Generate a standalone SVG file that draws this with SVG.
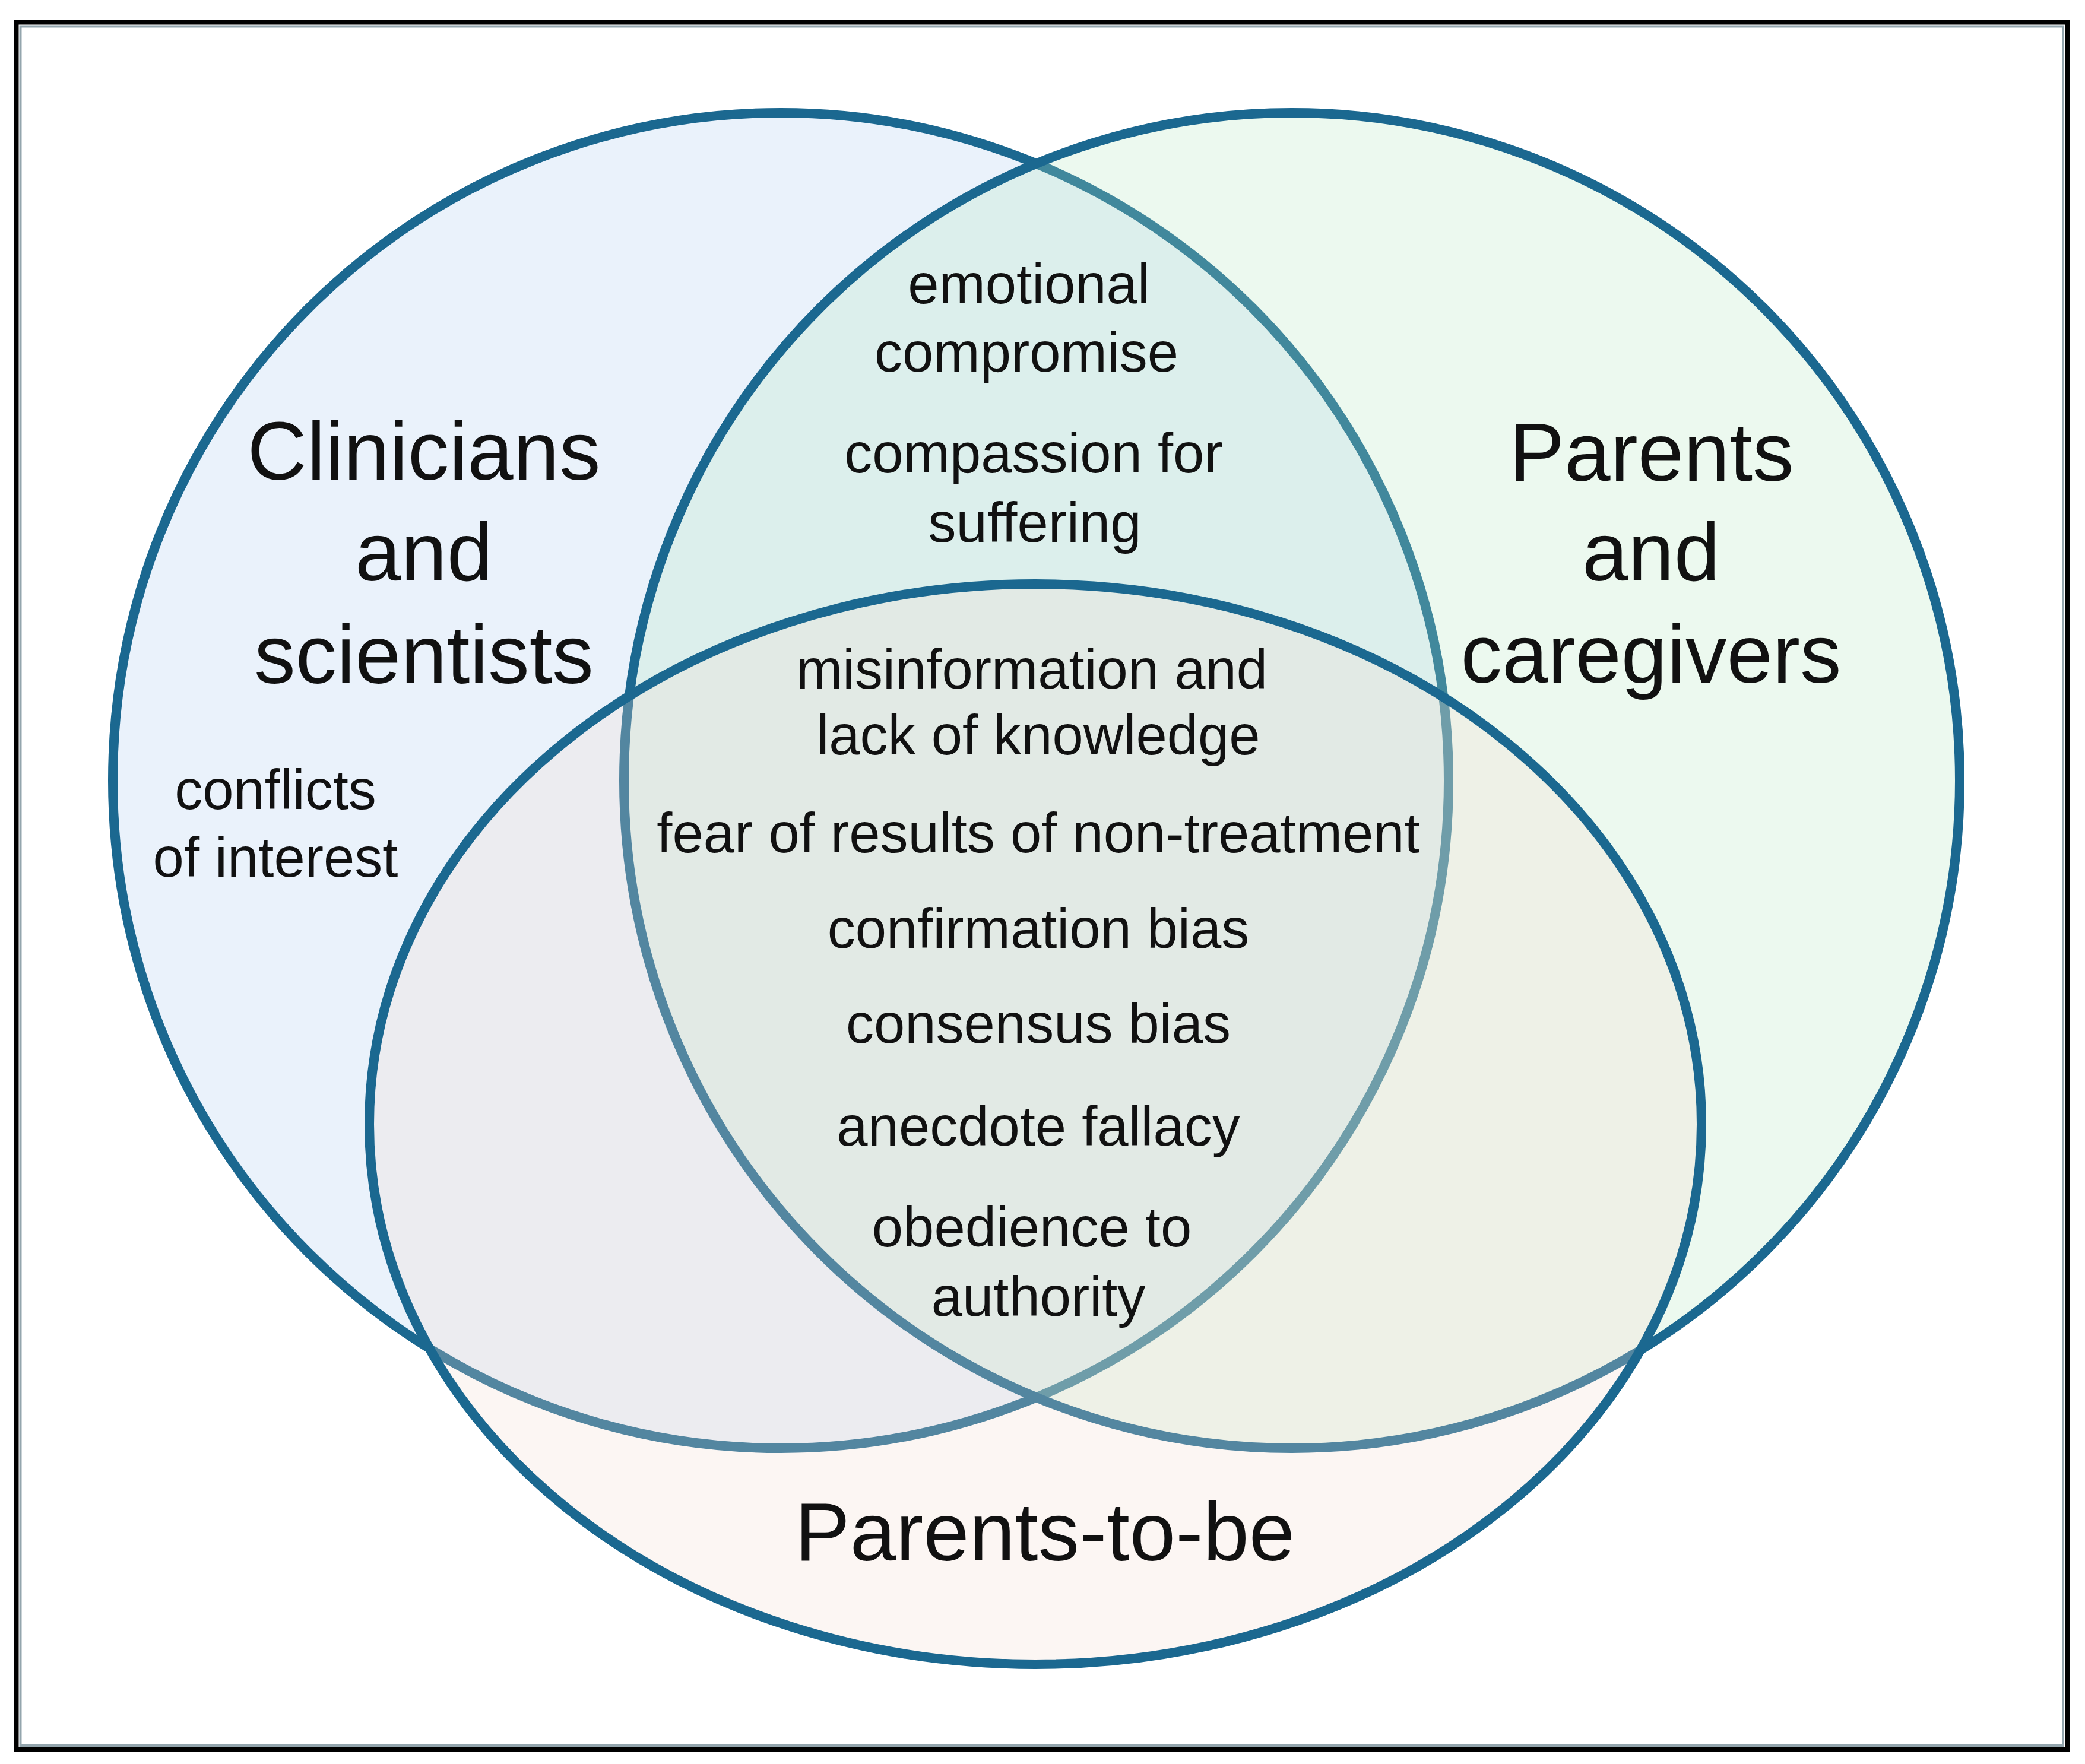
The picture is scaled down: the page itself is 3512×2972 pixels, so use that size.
<svg xmlns="http://www.w3.org/2000/svg" width="3512" height="2972" viewBox="0 0 3512 2972">
<style>
.set{stroke:#1b6890;stroke-width:16}
.big{font-family:"Liberation Sans",Arial,sans-serif;font-size:139px;fill:#111;text-anchor:middle}
.sm{font-family:"Liberation Sans",Arial,sans-serif;font-size:94px;fill:#111;text-anchor:middle}
</style>
<rect width="3512" height="2972" fill="#ffffff"/>
<rect x="27.5" y="37.5" width="3454.5" height="2909.5" fill="none" stroke="#000" stroke-width="8"/>
<rect x="34.5" y="44.5" width="3440.5" height="2896.5" fill="none" stroke="#93a5ad" stroke-width="4"/>
<g id="clinicians">
<circle class="set" cx="1315" cy="1315" r="1125" fill="#eaf2fb"/>
</g>
<g id="parents">
<circle class="set" cx="2176" cy="1315" r="1125" fill="rgb(180,232,190)" fill-opacity="0.25"/>
</g>
<g id="parents-to-be">
<ellipse class="set" cx="1744" cy="1894" rx="1122" ry="910" fill="rgb(243,220,209)" fill-opacity="0.26"/>
</g>
<g id="labels-clinicians">
<text class="big" x="714" y="808">Clinicians</text>
<text class="big" x="714" y="978">and</text>
<text class="big" x="714" y="1151">scientists</text>
<text class="sm" x="464" y="1363">conflicts</text>
<text class="sm" x="464" y="1477">of interest</text>
</g>
<g id="labels-parents">
<text class="big" x="2782" y="810">Parents</text>
<text class="big" x="2781" y="978">and</text>
<text class="big" x="2781" y="1150">caregivers</text>
</g>
<g id="labels-overlap-top">
<text class="sm" x="1733" y="511">emotional</text>
<text class="sm" x="1729" y="626">compromise</text>
<text class="sm" x="1741" y="796">compassion for</text>
<text class="sm" x="1743" y="913">suffering</text>
</g>
<g id="labels-center">
<text class="sm" x="1738" y="1160">misinformation and</text>
<text class="sm" x="1749" y="1271">lack of knowledge</text>
<text class="sm" x="1749" y="1436">fear of results of non-treatment</text>
<text class="sm" x="1749" y="1597">confirmation bias</text>
<text class="sm" x="1749" y="1757">consensus bias</text>
<text class="sm" x="1749" y="1930">anecdote fallacy</text>
<text class="sm" x="1738" y="2100">obedience to</text>
<text class="sm" x="1749" y="2217">authority</text>
</g>
<g id="labels-parents-to-be">
<text class="big" x="1760" y="2629">Parents-to-be</text>
</g>
</svg>
